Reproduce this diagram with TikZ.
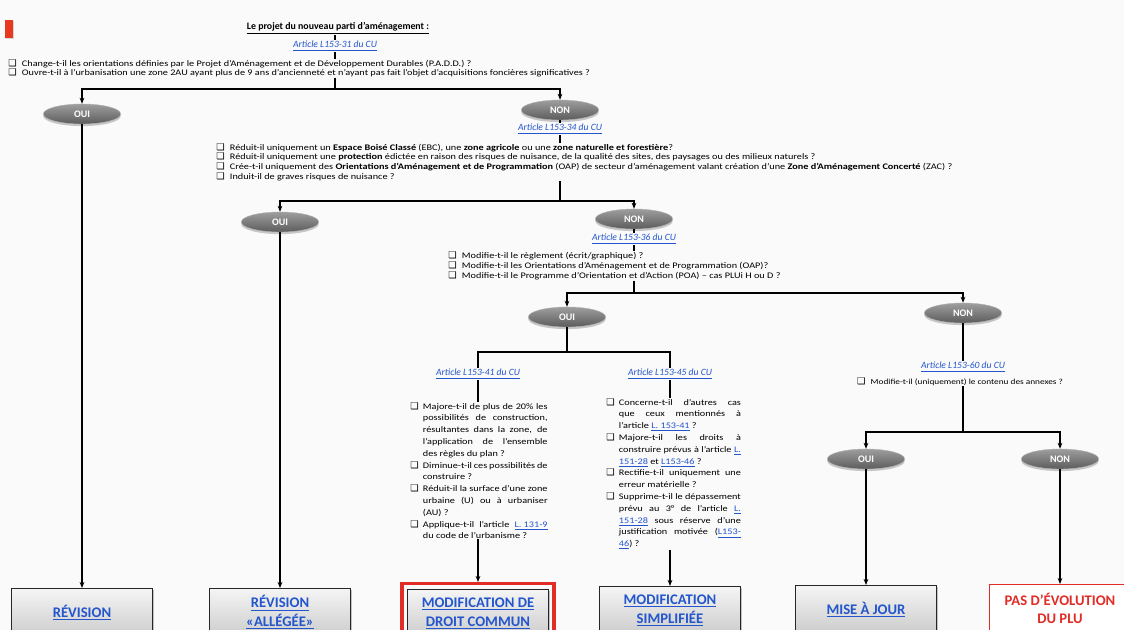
\documentclass[tikz,border=0pt]{standalone}
\usepackage{fontspec}
\setmainfont{Carlito}
\newfontfamily\qfont[FakeStretch=1.2,Ligatures=TeX]{Carlito}
\newfontfamily\symfont{DejaVu Sans}
\usetikzlibrary{shapes.geometric,shadows,arrows.meta}

\definecolor{lienbleu}{RGB}{35,85,205}
\definecolor{rougebord}{RGB}{226,44,38}
\definecolor{grisclair}{RGB}{158,158,158}
\definecolor{grisfonce}{RGB}{92,92,92}
\definecolor{fondpage}{RGB}{250,250,250}

\newcommand{\qcase}{{\symfont\fontsize{7}{7}\selectfont ❑}}
\newcommand{\lien}[1]{\textcolor{lienbleu}{\underline{#1}}}
\newcommand{\qitem}[1]{\par\noindent\hangindent=9.5pt\hangafter=1\makebox[9.5pt][l]{\qcase}#1}
\newcommand{\colfont}{\qfont\fontsize{6.4}{8.85}\selectfont}
\hbadness=10000
\hfuzz=20pt

\tikzset{
  choix/.style={ellipse, minimum width=58pt, minimum height=15pt, inner sep=0pt,
    top color=grisclair, bottom color=grisfonce, draw=gray!60, line width=0.3pt,
    text=white, font=\bfseries\fontsize{7.5}{8}\selectfont,
    drop shadow={shadow xshift=0pt, shadow yshift=-1.6pt, fill=gray!45, opacity=1}},
  article/.style={font=\itshape\fontsize{7.2}{8}\selectfont, text=lienbleu, inner sep=1pt},
  liste/.style={anchor=north west, inner sep=0pt, align=left, font=\qfont\fontsize{6.4}{7.3}\selectfont},
  boite/.style={anchor=north, minimum width=106pt, minimum height=36pt, line width=0.6pt,
    align=center, font=\bfseries\fontsize{11}{14}\selectfont,
    drop shadow={shadow xshift=1.2pt, shadow yshift=-1.2pt, opacity=0.45}},
  procbox/.style={boite, draw=black!85, top color=gray!8, bottom color=gray!40, text=lienbleu},
  finbox/.style={boite, draw=rougebord, fill=white, text=rougebord},
  fleche/.style={-{Stealth[length=4.5pt,width=3.5pt]}, line width=1.1pt},
  trait/.style={line width=1.1pt},
}

\begin{document}
\begin{tikzpicture}[x=0.75pt,y=0.75pt,yscale=-1,xscale=1]
\path[use as bounding box] (0,0) rectangle (1124,630);
\clip (0,0) rectangle (1124,630);
\fill[fondpage] (0,0) rectangle (1124,630);

%Shape: Rectangle (red mark)
\fill[rougebord!85!orange, drop shadow={shadow xshift=1pt, shadow yshift=-1pt, opacity=0.3}] (5,20) rectangle (13,38);

% Text Node
\node[font=\bfseries\fontsize{7.4}{9}\selectfont, inner sep=1pt] (ttl) at (338,28) {\underline{Le projet du nouveau parti d'aménagement :}};
% Text Node
\node[article] (a31) at (335,46) {\underline{Article L153-31 du CU}};
% Text Node
\node[liste] (q1) at (8,59) {\qcase\hspace{4pt}Change-t-il les orientations définies par le Projet d'Aménagement et de Développement Durables (P.A.D.D.) ?\\
\qcase\hspace{4pt}Ouvre-t-il à l'urbanisation une zone 2AU ayant plus de 9 ans d'ancienneté et n'ayant pas fait l'objet d'acquisitions foncières significatives ?};
\coordinate (j1) at (335,89);

%Shape: Ellipse
\node[choix] (oui1) at (82,114) {OUI};
\node[choix] (non1) at (560,110) {NON};
% Text Node
\node[article] (a34) at (560,129) {\underline{Article L153-34 du CU}};
% Text Node
\node[liste] (q2) at (216,143) {\qcase\hspace{4pt}Réduit-il uniquement un \textbf{Espace Boisé Classé} (EBC), une \textbf{zone agricole} ou une \textbf{zone naturelle et forestière}?\\
\qcase\hspace{4pt}Réduit-il uniquement une \textbf{protection} édictée en raison des risques de nuisance, de la qualité des sites, des paysages ou des milieux naturels ?\\
\qcase\hspace{4pt}Crée-t-il uniquement des \textbf{Orientations d'Aménagement et de Programmation} (OAP) de secteur d'aménagement valant création d'une \textbf{Zone d'Aménagement Concerté} (ZAC) ?\\
\qcase\hspace{4pt}Induit-il de graves risques de nuisance ?};
\coordinate (j2) at (560,201);

%Shape: Ellipse
\node[choix] (oui2) at (280,222) {OUI};
\node[choix] (non2) at (634,219) {NON};
% Text Node
\node[article] (a36) at (634,239) {\underline{Article L153-36 du CU}};
% Text Node
\node[liste, font=\qfont\fontsize{6.4}{7.8}\selectfont] (q3) at (448,251) {\qcase\hspace{4pt}Modifie-t-il le règlement (écrit/graphique) ?\\
\qcase\hspace{4pt}Modifie-t-il les Orientations d'Aménagement et de Programmation (OAP)?\\
\qcase\hspace{4pt}Modifie-t-il le Programme d'Orientation et d'Action (POA) -- cas PLUi H ou D ?};
\coordinate (j3) at (634,293);

%Shape: Ellipse
\node[choix] (oui3) at (567,317) {OUI};
\node[choix] (non3) at (963,313) {NON};
\coordinate (j4) at (567,352);
% Text Node
\node[article] (a41) at (478,374) {\underline{Article L153-41 du CU}};
\node[article] (a45) at (670,374) {\underline{Article L153-45 du CU}};
% Text Node
\node[anchor=north west, inner sep=0pt, font=\colfont] (q41) at (410,402) {\parbox{103pt}{%
\qitem{Majore-t-il de plus de 20\% les\linebreak possibilités de construction,\linebreak résultantes dans la zone, de\linebreak l'application de l'ensemble\linebreak des règles du plan ?}%
\qitem{Diminue-t-il ces possibilités de\linebreak construire ?}%
\qitem{Réduit-il la surface d'une zone\linebreak urbaine (U) ou à urbaniser\linebreak (AU) ?}%
\qitem{Applique-t-il l'article \lien{L. 131-9}\linebreak du code de l'urbanisme ?}}};
% Text Node
\node[anchor=north west, inner sep=0pt, font=\colfont] (q45) at (606,398) {\parbox{101pt}{%
\qitem{Concerne-t-il d'autres cas\linebreak que ceux mentionnés à\linebreak l'article \lien{L. 153-41} ?}%
\qitem{Majore-t-il les droits à\linebreak construire prévus à l'article \lien{L.}\linebreak \lien{151-28} et \lien{L153-46} ?}%
\qitem{Rectifie-t-il uniquement une\linebreak erreur matérielle ?}%
\qitem{Supprime-t-il le dépassement\linebreak prévu au 3° de l'article \lien{L.}\linebreak \lien{151-28} sous réserve d'une\linebreak justification motivée (\lien{L153-}\linebreak \lien{46}) ?}}};

% Text Node
\node[article] (a60) at (963,367) {\underline{Article L153-60 du CU}};
\node[liste, anchor=center, font=\qfont\fontsize{5.8}{7}\selectfont] (q60) at (960,382) {\qcase\hspace{4pt}Modifie-t-il (uniquement) le contenu des annexes ?};
\coordinate (j5) at (963,432);

%Shape: Ellipse
\node[choix] (oui4) at (866,459) {OUI};
\node[choix] (non4) at (1060,459) {NON};

%Shape: Rectangle
\node[procbox] (revA) at (82,588) {\underline{RÉVISION}};
\node[procbox] (revB) at (280,588) {\underline{RÉVISION}\\\underline{«ALLÉGÉE»}};
\node[draw=rougebord, line width=2.4pt, minimum width=114pt, minimum height=44pt, anchor=north] (cadre) at (478,582) {};
\node[procbox] (modC) at (478,589) {\underline{MODIFICATION DE}\\\underline{DROIT COMMUN}};
\node[procbox] (modD) at (670,586) {\underline{MODIFICATION}\\\underline{SIMPLIFIÉE}};
\node[procbox] (majE) at (866,585) {\underline{MISE À JOUR}};
\node[finbox] (pasF) at (1060,584) {PAS D'ÉVOLUTION\\DU PLU};

%Connectors
\draw[trait] (a31.north |- ttl.south) -- (a31.north);
\draw[trait] (a31.south) -- (a31.south |- q1.north);
\draw[trait] (q1.south -| j1) -- (j1);
\draw[fleche] (j1) -| (oui1);
\draw[fleche] (j1) -| (non1);
\draw[trait] (non1) -- (a34);
\draw[trait] (a34.south) -- (a34.south |- q2.north);
\draw[trait] (q2.south -| j2) -- (j2);
\draw[fleche] (j2) -| (oui2);
\draw[fleche] (j2) -| (non2);
\draw[trait] (non2) -- (a36);
\draw[trait] (a36.south) -- (a36.south |- q3.north);
\draw[trait] (q3.south -| j3) -- (j3);
\draw[fleche] (j3) -| (oui3);
\draw[fleche] (j3) -| (non3);
\draw[trait] (oui3) -- (j4);
\draw[trait] (j4) -| (a41);
\draw[trait] (j4) -| (a45);
\draw[trait] (a41.south) -- (a41.south |- q41.north);
\draw[trait] (a45.south) -- (a45.south |- q45.north);
\draw[fleche] (q41.south -| a41) -- (cadre.north);
\draw[fleche] (q45.south -| a45) -- (modD.north);
\draw[trait] (non3) -- (a60);
\draw[trait] (q60.south -| j5) -- (j5);
\draw[fleche] (j5) -| (oui4);
\draw[fleche] (j5) -| (non4);
\draw[fleche] (oui1) -- (revA);
\draw[fleche] (oui2) -- (revB);
\draw[fleche] (oui4) -- (majE);
\draw[fleche] (non4) -- (pasF);

\end{tikzpicture}
\end{document}
